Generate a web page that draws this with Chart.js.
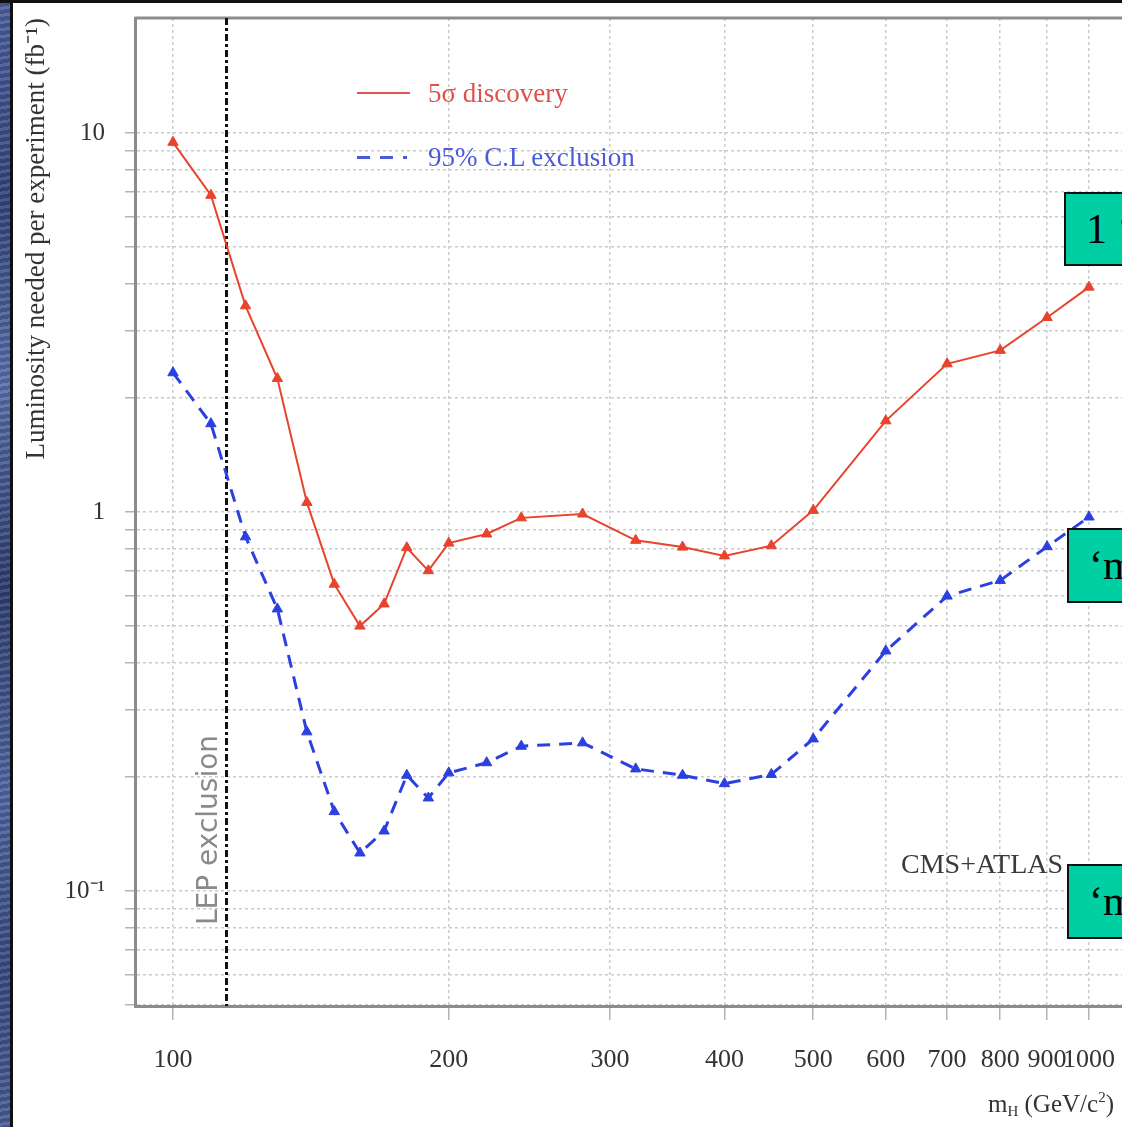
<!DOCTYPE html>
<html>
<head>
<meta charset="utf-8">
<script src="https://cdn.jsdelivr.net/npm/chart.js@4.4.1/dist/chart.umd.min.js"></script>
<style>
  html, body { margin: 0; padding: 0; background: #fff; overflow: hidden; }
  #stage {
    position: relative; width: 1122px; height: 1127px; overflow: hidden; background: #fff;
    font-family: "Liberation Serif", "Times New Roman", serif;
  }
  .strip {
    position: absolute; left: 0; top: 0; width: 10px; height: 1127px;
    background:
      repeating-linear-gradient(170deg, rgba(255,255,255,0.10) 0 3px, rgba(0,0,0,0.12) 3px 7px),
      linear-gradient(180deg, #4d60a0 0%, #33457c 18%, #5a6fab 34%, #2e3e70 52%, #5166a2 70%, #394b82 86%, #4a5d97 100%);
  }
  .vline { position: absolute; left: 10px; top: 0; width: 3px; height: 1127px; background: #111; }
  .topbar { position: absolute; left: 0; top: 0; width: 1122px; height: 3px; background: #111; z-index: 3; }
  #wrap { position: absolute; left: 13px; top: 0; width: 1187px; height: 1127px; }
  .abs { position: absolute; white-space: nowrap; }
  .legtext { font-size: 27px; line-height: 30px; }
  .xtitle { left: 988px; top: 1089px; font-size: 25px; color: #333; }
  .xtitle sub { font-size: 15px; vertical-align: -4px; }
  .xtitle sup { font-size: 15px; vertical-align: 10px; }
  .box {
    position: absolute; background: #00cfa4; border: 2px solid #111; box-sizing: border-box;
    width: 120px; font-size: 42px; line-height: 70px; padding-left: 20px; color: #000;
  }
</style>
</head>
<body>
<div id="stage">
  <div id="wrap"><canvas id="chart"></canvas></div>
  <div class="strip"></div>
  <div class="vline"></div>
  <div class="topbar"></div>

  <div class="abs" style="left:357px;top:92px;width:53px;height:2px;background:#e0554c;"></div>
  <div class="abs legtext" style="left:428px;top:78px;color:#e0504a;">5σ discovery</div>
  <div class="abs" style="left:357px;top:156px;width:13px;height:3px;background:#4a5ad8;"></div>
  <div class="abs" style="left:380px;top:156px;width:13px;height:3px;background:#4a5ad8;"></div>
  <div class="abs" style="left:403px;top:156px;width:4px;height:3px;background:#4a5ad8;"></div>
  <div class="abs legtext" style="left:428px;top:142px;color:#4a5ad8;">95% C.L exclusion</div>

  <div class="abs xtitle">m<sub>H</sub> (GeV/c<sup>2</sup>)</div>

  <div class="box" style="left:1064px;top:192px;height:74px;">1 ‘</div>
  <div class="box" style="left:1067px;top:528px;height:75px;">‘m</div>
  <div class="box" style="left:1067px;top:864px;height:75px;">‘m</div>
</div>

<script>
// Higgs mass points (GeV/c^2)
const masses = [100, 110, 120, 130, 140, 150, 160, 170, 180, 190, 200, 220, 240, 280, 320, 360, 400, 450, 500, 600, 700, 800, 900, 1000]
// luminosity needed (fb^-1)
const discovery5sigma = [9.45, 6.85, 3.5, 2.25, 1.06, 0.645, 0.50, 0.572, 0.805, 0.70, 0.828, 0.875, 0.965, 0.988, 0.842, 0.808, 0.766, 0.815, 1.01, 1.74, 2.46, 2.67, 3.26, 3.92]
const exclusion95 = [2.33, 1.71, 0.86, 0.555, 0.263, 0.162, 0.126, 0.144, 0.202, 0.176, 0.205, 0.218, 0.241, 0.246, 0.210, 0.202, 0.192, 0.203, 0.252, 0.43, 0.60, 0.66, 0.81, 0.97]

const xTickValues = [100, 200, 300, 400, 500, 600, 700, 800, 900, 1000]
const yGridValues = [0.05, 0.06, 0.07, 0.08, 0.09, 0.1, 0.2, 0.3, 0.4, 0.5, 0.6, 0.7, 0.8, 0.9, 1, 2, 3, 4, 5, 6, 7, 8, 9, 10]
const yLabelValues = [0.1, 1, 10]
const yLabelText = ['10⁻¹', '1', '10']
const lepLimit = 114.4

const RED = '#e8432d'
const BLUE = '#2c40e0'
const SERIF = '"Liberation Serif", "Times New Roman", serif'

const toPoints = (ys) => masses.map((m, i) => ({ x: m, y: ys[i] }))

const framePlugin = {
  id: 'frame',
  beforeDatasetsDraw(chart) {
    const { ctx, chartArea: a, scales: { x } } = chart
    ctx.save()
    // top edge of the frame
    ctx.strokeStyle = '#8c8c8c'
    ctx.lineWidth = 3
    ctx.beginPath()
    ctx.moveTo(a.left, a.top)
    ctx.lineTo(a.right, a.top)
    ctx.stroke()

    // LEP limit
    const px = x.getPixelForValue(lepLimit)
    ctx.strokeStyle = '#111'
    ctx.lineWidth = 3
    ctx.setLineDash([7, 3, 3, 3])
    ctx.beginPath()
    ctx.moveTo(px, a.top)
    ctx.lineTo(px, a.bottom)
    ctx.stroke()
    ctx.setLineDash([])

    ctx.save()
    ctx.translate(px - 17, a.bottom - 81)
    ctx.rotate(-Math.PI / 2)
    ctx.fillStyle = '#8a8a8a'
    ctx.font = '28px "DejaVu Sans", sans-serif'
    ctx.textAlign = 'left'
    ctx.textBaseline = 'middle'
    ctx.fillText('LEP exclusion', 0, 0)
    ctx.restore()

    ctx.fillStyle = '#3a3a3a'
    ctx.font = '28px ' + SERIF
    ctx.textAlign = 'left'
    ctx.textBaseline = 'middle'
    ctx.fillText('CMS+ATLAS', a.left + 766, a.top + 848)
    ctx.restore()
  }
}

new Chart(document.getElementById('chart'), {
  type: 'line',
  data: {
    datasets: [
      {
        label: '5σ discovery',
        data: toPoints(discovery5sigma),
        borderColor: RED,
        backgroundColor: RED,
        borderWidth: 2,
        pointStyle: 'triangle',
        pointRadius: 6,
        pointBorderWidth: 1,
        tension: 0,
        fill: false
      },
      {
        label: '95% C.L exclusion',
        data: toPoints(exclusion95),
        borderColor: BLUE,
        backgroundColor: BLUE,
        borderWidth: 3,
        borderDash: [13, 9],
        pointStyle: 'triangle',
        pointRadius: 6,
        pointBorderWidth: 1,
        tension: 0,
        fill: false
      }
    ]
  },
  options: {
    responsive: true,
    maintainAspectRatio: false,
    animation: false,
    layout: { autoPadding: false, padding: { top: 18, left: 0, right: 0, bottom: 0 } },
    plugins: { legend: { display: false }, tooltip: { enabled: false } },
    scales: {
      x: {
        type: 'logarithmic',
        min: 90.89,
        max: 1321.9,
        afterBuildTicks: (s) => { s.ticks = xTickValues.map(v => ({ value: v })) },
        afterFit: (s) => { s.height = 121; s.paddingLeft = 0; s.paddingRight = 0 },
        grid: { color: '#cccccc', lineWidth: 1.5, tickColor: '#b4b4b4', tickLength: 14, tickWidth: 1.5 },
        border: { display: true, color: '#8c8c8c', width: 3, dash: [3, 3] },
        ticks: {
          autoSkip: false,
          maxRotation: 0,
          minRotation: 0,
          padding: 25,
          color: '#333',
          font: { family: SERIF, size: 26 },
          callback: (v) => xTickValues.includes(v) ? String(v) : ''
        }
      },
      y: {
        type: 'logarithmic',
        min: 0.04973,
        max: 20.11,
        afterBuildTicks: (s) => { s.ticks = yGridValues.map(v => ({ value: v })) },
        afterFit: (s) => { s.width = 122; s.paddingTop = 0; s.paddingBottom = 0 },
        grid: { color: '#cccccc', lineWidth: 1.5, tickColor: '#b4b4b4', tickLength: 10, tickWidth: 1.5 },
        border: { display: true, color: '#8c8c8c', width: 3, dash: [3, 3] },
        ticks: {
          autoSkip: false,
          padding: 20,
          color: '#333',
          font: { family: SERIF, size: 25 },
          callback: (v) => {
            const i = yLabelValues.indexOf(v)
            return i >= 0 ? yLabelText[i] : ''
          }
        },
        title: {
          display: true,
          text: 'Luminosity needed per experiment (fb⁻¹)',
          align: 'end',
          color: '#333',
          font: { family: SERIF, size: 27 },
          padding: { top: 8, bottom: 0 }
        }
      }
    }
  },
  plugins: [framePlugin]
})
</script>
</body>
</html>
